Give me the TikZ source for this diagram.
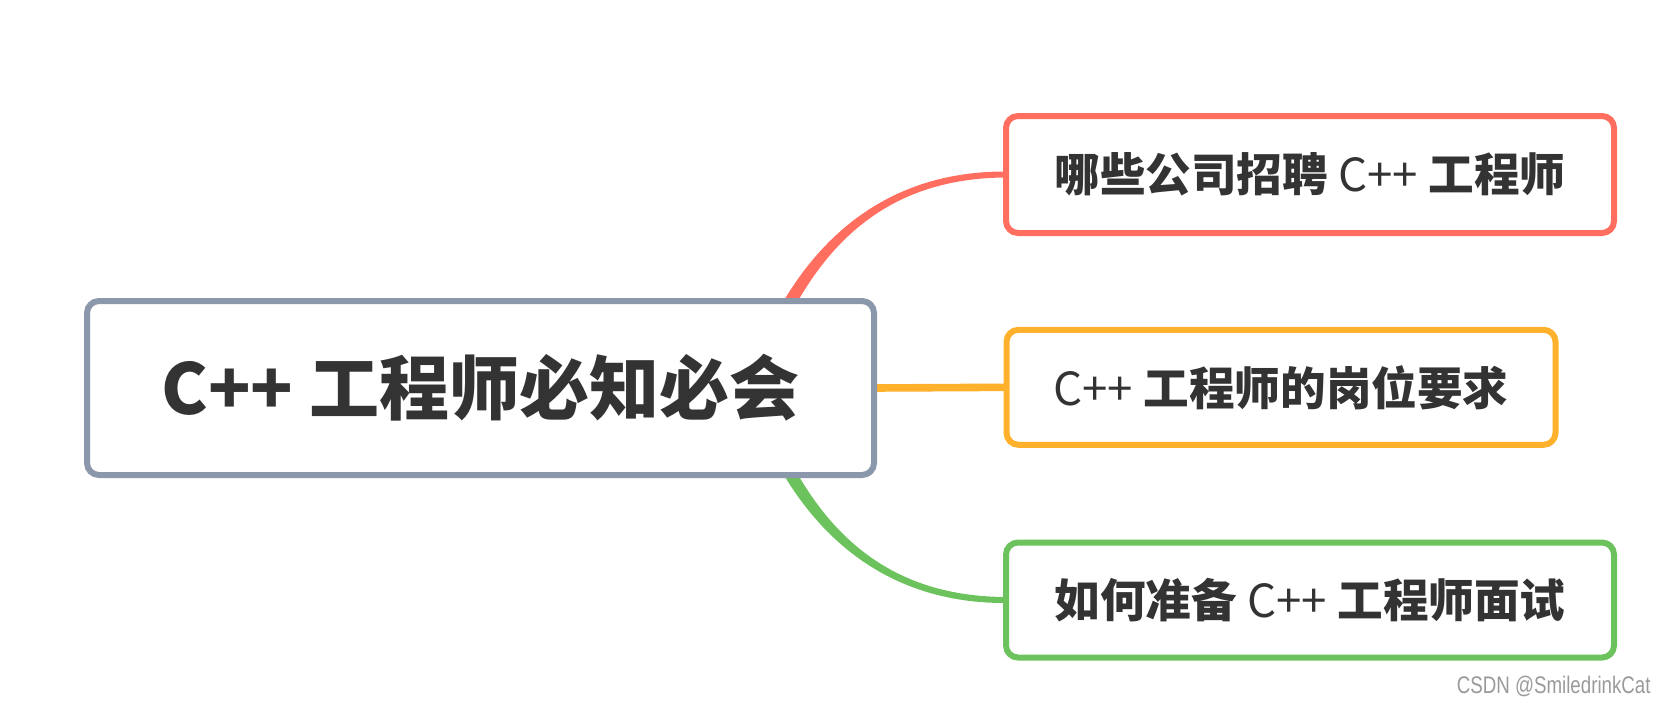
\documentclass[tikz,border=0pt]{standalone}
\usepackage{fontspec}
\setmainfont{Liberation Sans}
\newfontfamily\cjk{Noto Sans CJK SC}
\usetikzlibrary{backgrounds,calc}
\definecolor{txt}{HTML}{333333}
\definecolor{cgray}{HTML}{8B97AA}
\definecolor{cred}{HTML}{FF6E5E}
\definecolor{corange}{HTML}{FFB12B}
\definecolor{cgreen}{HTML}{6CC25C}
\definecolor{wm}{HTML}{9A9A9A}
\begin{document}
\begin{tikzpicture}[x=0.5pt,y=-0.5pt,
  box/.style={draw, line width=3pt, rounded corners=6pt, fill=white, inner sep=0pt, outer sep=0pt, text=txt},
  big/.style={font=\cjk\bfseries\fontsize{35}{35}\selectfont},
  small/.style={font=\cjk\bfseries\fontsize{22.8}{22.8}\selectfont},
]
\useasboundingbox (0,0) rectangle (1668,702);
\node[box, big, draw=cgray, minimum width=393.5pt, minimum height=87pt] (c) at (480.5,388) {C++ 工程师必知必会};
\node[box, small, draw=cred, minimum width=304pt, minimum height=58.5pt] (t) at (1310,174.5) {哪些公司招聘 {\mdseries C++} 工程师};
\node[box, small, draw=corange, minimum width=274.5pt, minimum height=57.5pt] (m) at (1281,387.3) {{\mdseries C++} 工程师的岗位要求};
\node[box, small, draw=cgreen, minimum width=304pt, minimum height=57.5pt] (b) at (1310,600) {如何准备 {\mdseries C++} 工程师面试};
\node[anchor=east, inner sep=0pt, text=wm, font=\fontsize{12}{12}\selectfont] (w) at (1651,686) {\scalebox{0.78}[1]{CSDN @SmiledrinkCat}};
\begin{pgfonlayer}{background}
\fill[cred] ($(c.center)+(279,-39.7)$) .. controls (810.3,230.8) and (894.3,171) .. ($(t.west)+(0,-3)$)
  -- ($(t.west)+(0,3)$) .. controls (894.3,178) and (820.3,235.8) .. ($(c.center)+(292,-34.3)$) -- cycle;
\fill[cgreen] ($(c.center)+(279,39.7)$) .. controls (810.3,544.2) and (894.3,603.5) .. ($(b.west)+(0,3)$)
  -- ($(b.west)+(0,-3)$) .. controls (894.3,596.5) and (820.3,539.2) .. ($(c.center)+(292,34.3)$) -- cycle;
\draw[corange, line width=3.8pt] (c.east) -- (m.west);
\end{pgfonlayer}
\end{tikzpicture}
\end{document}
